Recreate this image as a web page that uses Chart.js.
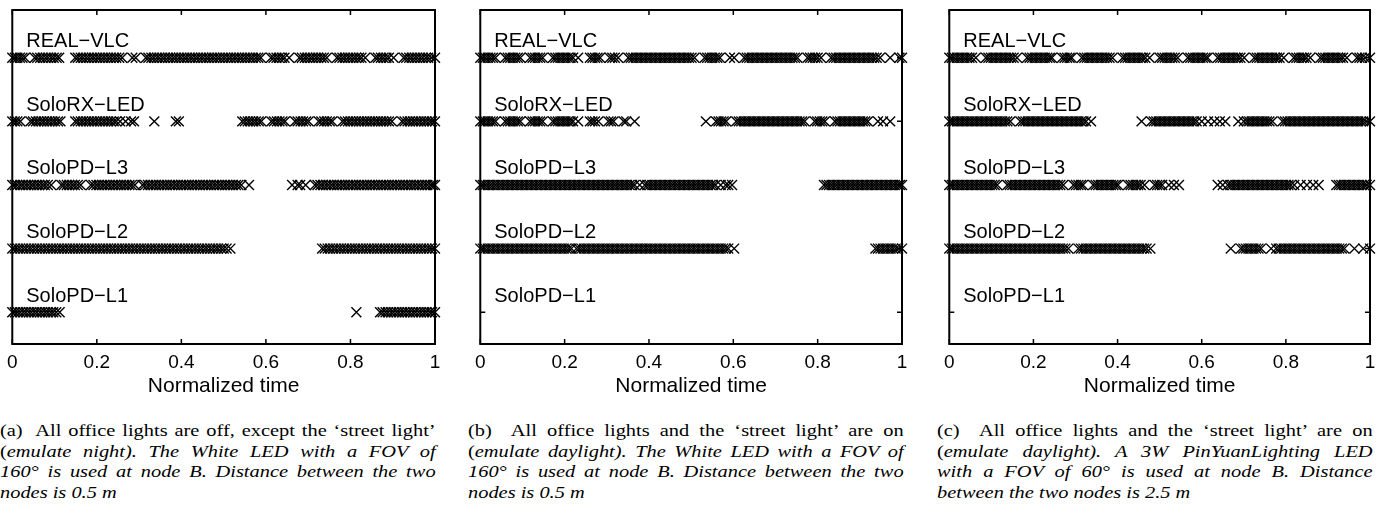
<!DOCTYPE html>
<html>
<head>
<meta charset="utf-8">
<script src="https://cdn.jsdelivr.net/npm/chart.js@4.4.1/dist/chart.umd.min.js"></script>
<style>
  body { margin: 0; background: #fff; width: 1385px; height: 517px; position: relative; overflow: hidden; }
  canvas { position: absolute; top: 0; }
  .cap { position: absolute; top: 421px; width: 363px; transform: scaleX(1.2); transform-origin: 0 0;
         font-family: "Liberation Serif", "Times New Roman", serif; font-size: 17px; line-height: 20.7px; color: #000; }
  .cap div { text-align: justify; text-align-last: justify; }
  .cap div.last { text-align-last: left; }
</style>
</head>
<body>
<canvas id="chartA" width="450" height="400" style="left:0px"></canvas>
<canvas id="chartB" width="450" height="400" style="left:468px"></canvas>
<canvas id="chartC" width="448" height="400" style="left:937px"></canvas>
<div class="cap" id="capA" style="left:0px"></div>
<div class="cap" id="capB" style="left:468px"></div>
<div class="cap" id="capC" style="left:937px"></div>
<script>
// rows, top to bottom
rowNames = ['REAL\u2212VLC', 'SoloRX\u2212LED', 'SoloPD\u2212L3', 'SoloPD\u2212L2', 'SoloPD\u2212L1'];
rowLevels = [5, 4, 3, 2, 1];
xTicks = [0, 0.2, 0.4, 0.6, 0.8, 1];
xTickLabels = ['0', '0.2', '0.4', '0.6', '0.8', '1'];

// (a) lights off, street light on
a_real = [0,0.006,0.012,0.018,0.024,0.03,
  0.053,0.059,0.066,0.072,0.079,0.085,0.092,0.098,0.105,0.111,
  0.149,0.155,0.162,0.168,0.175,0.181,0.188,0.194,0.201,0.207,0.214,0.22,0.227,0.233,0.24,0.246,0.253,0.26,
  0.284,0.292,
  0.316,0.322,0.329,0.335,0.342,0.348,0.355,0.361,0.368,0.374,0.381,0.387,0.394,0.4,0.407,0.413,0.42,0.426,0.433,0.439,0.446,0.452,0.459,0.465,0.472,0.478,0.485,0.491,0.498,0.504,0.511,0.517,0.524,0.53,0.537,0.543,0.55,0.556,0.563,0.569,0.576,0.582,0.588,
  0.612,0.618,0.625,0.631,0.638,0.644,0.655,
  0.679,0.685,0.692,0.698,0.705,0.711,0.718,0.724,0.731,0.737,0.744,
  0.768,0.774,0.781,0.787,0.794,0.8,0.807,0.813,0.82,0.826,0.835,
  0.859,0.865,0.872,0.878,0.885,0.891,0.902,
  0.926,0.932,0.939,0.945,0.952,0.958,0.965,0.971,0.978,0.984,0.991,1];
a_rx = [0,0.006,0.012,0.019,
  0.043,0.049,0.056,0.062,0.069,0.075,0.082,0.088,0.095,0.101,0.108,0.114,
  0.149,0.155,0.162,0.168,0.175,0.181,0.188,0.194,0.201,0.207,0.214,0.22,0.227,0.233,0.24,0.246,0.255,0.268,0.281,0.288,
  0.336,
  0.387,0.394,
  0.544,0.55,0.557,0.563,0.57,0.576,0.583,0.589,
  0.613,0.619,0.626,0.632,0.639,0.645,
  0.669,0.675,0.682,0.688,0.695,0.701,
  0.725,0.731,0.738,0.744,0.751,0.757,
  0.781,0.787,0.794,0.8,0.807,0.813,0.82,0.826,0.833,0.839,0.846,0.852,0.859,0.865,0.872,0.878,0.885,0.891,0.898,
  0.922,0.928,0.935,0.941,0.948,0.954,0.961,0.967,0.974,0.98,0.987,0.993,1];
a_l3 = [0,0.006,0.012,0.019,0.025,0.032,0.038,0.045,0.051,0.058,0.064,0.071,0.077,0.084,0.092,
  0.116,0.122,0.129,0.135,0.142,0.148,0.155,0.162,
  0.186,0.192,0.199,0.205,0.212,0.218,0.225,0.231,0.238,0.244,0.251,0.257,0.264,0.27,0.277,0.283,0.29,
  0.308,0.314,0.321,0.327,0.334,0.34,0.347,0.353,0.36,0.366,0.373,0.379,0.386,0.392,0.399,0.405,0.412,0.418,0.425,0.431,0.438,0.444,0.451,0.457,0.464,0.47,0.477,0.483,0.49,0.496,0.503,0.509,0.516,0.522,0.529,0.535,0.542,0.56,
  0.662,0.675,0.681,0.694,
  0.716,0.722,0.729,0.735,0.742,0.748,0.755,0.761,0.768,0.774,0.781,0.787,0.794,0.8,0.807,0.813,0.82,0.826,0.833,0.839,0.846,0.852,0.859,0.865,0.872,0.878,0.885,0.891,0.898,0.904,0.911,0.917,0.924,0.93,0.937,0.943,0.95,0.956,0.963,0.969,0.976,0.982,0.989,0.995,1];
a_l2 = [0,0.006,0.013,0.019,0.026,0.032,0.039,0.045,0.052,0.058,0.065,0.071,0.078,0.084,0.091,0.097,0.104,0.11,0.117,0.123,0.13,0.136,0.143,0.149,0.156,0.162,0.169,0.175,0.182,0.188,0.195,0.201,0.208,0.214,0.221,0.227,0.234,0.24,0.247,0.253,0.26,0.266,0.273,0.279,0.286,0.292,0.299,0.305,0.312,0.318,0.325,0.331,0.338,0.344,0.351,0.357,0.364,0.37,0.377,0.383,0.39,0.396,0.403,0.409,0.416,0.422,0.429,0.435,0.442,0.448,0.455,0.461,0.468,0.474,0.481,0.487,0.494,0.5,0.507,0.516,
  0.733,0.739,0.746,0.752,0.759,0.765,0.772,0.778,0.785,0.791,0.798,0.804,0.811,0.817,0.824,0.83,0.837,0.843,0.85,0.856,0.863,0.869,0.876,0.882,0.889,0.895,0.902,0.908,0.915,0.921,0.928,0.934,0.941,0.947,0.954,0.96,0.967,0.973,0.98,0.986,0.993,1];
a_l1 = [0,0.006,0.013,0.019,0.026,0.032,0.039,0.045,0.052,0.058,0.065,0.071,0.078,0.084,0.091,0.097,0.104,0.112,
  0.814,
  0.87,0.876,0.883,0.889,0.896,0.902,0.909,0.915,0.922,0.928,0.935,0.941,0.948,0.954,0.961,0.967,0.974,0.98,0.987,0.993,1];

// (b) all lights on, white LED
b_real = [0,0.006,0.012,0.018,0.024,0.03,0.036,
  0.059,0.065,0.071,0.077,0.083,0.089,0.095,
  0.118,0.124,0.13,0.136,0.142,0.148,
  0.172,0.178,0.184,0.19,0.196,0.202,0.208,0.214,0.22,0.232,
  0.26,0.266,0.272,0.278,0.284,
  0.307,0.313,0.319,0.327,
  0.351,0.357,0.363,0.369,0.375,0.381,0.387,0.393,0.399,0.405,0.411,0.417,0.423,0.429,0.435,0.441,0.447,0.453,0.459,0.465,0.471,0.477,0.483,0.489,0.495,0.501,0.508,
  0.532,0.538,0.544,0.55,0.556,0.562,0.568,
  0.592,0.602,
  0.626,0.632,0.638,0.644,0.65,0.656,0.662,0.668,0.674,0.68,0.686,0.692,0.698,0.704,0.71,0.716,0.722,0.728,0.734,0.74,0.746,0.752,
  0.776,0.782,0.788,0.794,0.8,0.808,
  0.832,0.838,0.844,0.85,0.856,0.862,0.868,0.874,0.88,0.886,0.892,0.898,0.904,0.91,0.916,0.922,0.928,0.934,0.94,0.948,
  0.972,0.994,1];
b_rx = [0,0.006,0.012,0.018,0.024,0.03,0.036,
  0.059,0.065,0.071,0.077,0.083,0.089,0.095,
  0.118,0.124,0.13,0.136,0.142,0.148,
  0.172,0.178,0.184,0.19,0.196,0.202,0.208,0.214,0.22,0.232,
  0.26,0.266,0.272,0.28,
  0.304,0.31,0.316,
  0.34,0.346,0.366,
  0.535,
  0.559,0.565,0.571,0.577,0.583,
  0.607,0.613,0.619,0.625,0.631,0.637,0.643,0.649,0.655,0.661,0.667,0.673,0.679,0.685,0.691,0.697,0.703,0.709,0.715,0.721,0.727,0.733,0.739,0.745,0.751,0.757,0.763,0.769,
  0.793,0.799,0.805,0.811,0.817,
  0.841,0.847,0.853,0.859,0.865,0.871,0.877,0.883,0.889,0.895,0.901,0.907,0.913,0.919,
  0.943,0.955,0.972];
b_l3 = [0,0.006,0.012,0.018,0.024,0.03,0.036,0.042,0.048,0.054,0.06,0.066,0.072,0.078,0.084,0.09,0.096,0.102,0.108,0.114,0.12,0.126,0.132,0.138,0.144,0.15,0.156,0.162,0.168,0.174,0.18,0.186,0.192,0.198,0.204,0.21,0.216,0.222,0.228,0.234,0.24,0.246,0.252,0.258,0.264,0.27,0.276,0.282,0.288,0.294,0.3,0.306,0.312,0.318,0.324,0.33,0.336,0.342,0.348,0.354,0.36,0.366,0.378,0.39,0.396,0.402,0.408,0.414,0.42,0.426,0.432,0.438,0.444,0.45,0.456,0.462,0.468,0.474,0.48,0.486,0.492,0.498,0.504,0.51,0.516,0.522,0.528,0.534,0.54,0.546,0.552,0.558,0.57,0.582,0.588,0.597,
  0.815,0.821,0.827,0.833,0.839,0.845,0.851,0.857,0.863,0.869,0.875,0.881,0.887,0.893,0.899,0.905,0.911,0.917,0.923,0.929,0.935,0.941,0.947,0.953,0.959,0.965,0.971,0.977,0.983,0.989,0.995,1];
b_l2 = [0,0.006,0.012,0.018,0.024,0.03,0.036,0.042,0.048,0.054,0.06,0.066,0.072,0.078,0.084,0.09,0.096,0.102,0.108,0.114,0.12,0.126,0.132,0.138,0.144,0.15,0.156,0.162,0.168,0.174,0.18,0.186,0.192,0.198,0.204,0.21,0.216,0.228,0.234,0.24,0.246,0.252,0.258,0.264,0.27,0.276,0.282,0.288,0.294,0.3,0.306,0.312,0.318,0.324,0.33,0.336,0.342,0.348,0.354,0.36,0.366,0.372,0.378,0.384,0.39,0.396,0.402,0.408,0.414,0.42,0.426,0.432,0.438,0.444,0.45,0.456,0.462,0.468,0.474,0.48,0.486,0.492,0.498,0.504,0.51,0.516,0.522,0.528,0.534,0.54,0.546,0.552,0.558,0.564,0.57,0.576,0.582,0.588,0.602,
  0.937,0.943,0.949,0.955,0.961,0.967,0.973,0.979,0.985,0.991,1];
b_l1 = [];

// (c) all lights on, 3W PinYuanLighting LED
c_real = [0,0.006,0.012,0.018,0.024,0.03,0.036,0.042,0.048,0.054,0.063,
  0.087,0.093,0.099,0.105,0.111,0.117,0.123,0.129,0.135,0.141,0.147,0.153,0.161,
  0.185,0.191,0.197,0.203,0.209,0.215,0.221,0.227,0.233,0.239,0.244,
  0.268,0.274,0.28,0.286,0.291,
  0.315,0.321,0.327,0.333,0.339,0.345,0.351,0.357,0.363,0.369,0.375,0.381,0.388,
  0.412,0.418,0.424,0.43,0.436,0.442,0.448,0.454,0.46,0.466,0.476,
  0.5,0.506,0.512,0.518,0.524,0.53,0.536,0.543,
  0.567,0.573,0.579,0.585,0.591,0.597,0.603,0.609,0.614,
  0.638,0.644,0.65,0.656,0.662,0.668,0.674,0.68,0.686,0.692,0.701,
  0.725,0.731,0.737,0.743,0.749,0.755,0.761,0.767,0.773,0.779,0.785,0.795,
  0.819,0.825,0.831,0.837,0.843,0.849,0.858,
  0.882,0.888,0.894,0.9,0.906,0.912,0.918,0.924,0.93,0.936,0.945,
  0.969,0.975,0.981,0.988,1];
c_rx = [0,0.006,0.012,0.018,0.024,0.03,0.036,0.042,0.048,0.054,0.06,0.066,0.072,0.078,0.084,0.09,0.096,0.102,0.108,0.114,0.12,0.126,0.132,0.138,0.145,
  0.169,0.175,0.181,0.187,0.193,0.199,0.205,0.211,0.217,0.223,0.229,0.235,0.241,0.247,0.253,0.259,0.265,0.271,0.277,0.283,0.289,0.295,0.301,0.307,0.313,0.319,0.325,0.337,
  0.457,
  0.48,0.486,0.492,0.498,0.504,0.51,0.516,0.522,0.528,0.534,0.54,0.546,0.552,0.558,0.564,0.57,0.576,0.582,0.588,0.6,
  0.615,0.63,0.643,0.656,
  0.687,0.7,0.707,0.713,0.719,0.725,0.731,0.737,0.743,0.749,0.755,0.761,0.768,
  0.792,0.798,0.804,0.81,0.816,0.822,0.828,0.834,0.84,0.846,0.852,0.858,0.864,0.87,0.876,0.882,0.888,0.894,0.9,0.906,0.912,0.918,0.924,0.93,0.936,0.942,0.948,0.954,0.96,0.966,0.972,0.978,0.984,0.99,1];
c_l3 = [0,0.006,0.012,0.018,0.024,0.03,0.036,0.042,0.048,0.054,0.06,0.066,0.072,0.078,0.084,0.09,0.096,0.102,0.108,0.114,
  0.138,0.144,0.15,0.156,0.162,0.168,0.174,0.18,0.186,0.192,0.198,0.204,0.21,0.216,0.222,0.228,0.234,0.24,0.246,0.252,0.258,0.264,0.271,
  0.295,0.301,0.307,0.313,0.318,
  0.342,0.348,0.354,0.36,0.366,0.372,0.378,0.384,0.39,0.396,0.401,
  0.425,0.431,0.437,0.443,0.449,0.455,0.464,
  0.488,0.494,0.5,0.506,0.522,0.534,0.546,
  0.638,0.65,0.662,0.668,0.674,0.68,0.686,0.692,0.698,0.704,0.71,0.716,0.722,0.728,0.734,0.74,0.746,0.752,0.758,0.764,0.77,0.776,0.782,0.788,0.794,0.8,0.806,0.812,0.82,0.835,0.85,0.865,0.878,
  0.92,0.926,0.932,0.938,0.944,0.95,0.956,0.962,0.968,0.974,0.98,0.986,0.992,1];
c_l2 = [0,0.006,0.012,0.018,0.024,0.03,0.036,0.042,0.048,0.054,0.06,0.066,0.072,0.078,0.084,0.09,0.096,0.102,0.108,0.114,0.12,0.126,0.132,0.138,0.144,0.15,0.156,0.162,0.168,0.174,0.18,0.186,0.192,0.198,0.204,0.21,0.216,0.222,0.228,0.234,0.24,0.246,0.252,0.258,0.264,0.27,0.276,0.283,
  0.307,0.313,0.319,0.325,0.331,0.337,0.343,0.349,0.355,0.361,0.367,0.373,0.379,0.385,0.391,0.397,0.403,0.409,0.415,0.421,0.427,0.433,0.439,0.445,0.451,0.457,0.463,0.469,0.478,
  0.669,
  0.693,0.699,0.705,0.711,0.717,0.723,0.729,0.735,0.741,
  0.765,
  0.777,0.783,0.789,0.795,0.801,0.807,0.813,0.819,0.825,0.831,0.837,0.843,0.849,0.855,0.861,0.867,0.873,0.879,0.885,0.891,0.897,0.903,0.909,0.915,0.921,0.927,0.933,0.939,
  0.963,0.984,1];
c_l1 = [];

capA = [
  '(a)&nbsp; All office lights are off, except the \u2018street light\u2019',
  '(<i>emulate night). The White LED with a FOV of</i>',
  '<i>160\u00b0 is used at node B. Distance between the two</i>',
  '<i>nodes is 0.5 m</i>'
];
capB = [
  '(b)&nbsp; All office lights and the \u2018street light\u2019 are on',
  '(<i>emulate daylight). The White LED with a FOV of</i>',
  '<i>160\u00b0 is used at node B. Distance between the two</i>',
  '<i>nodes is 0.5 m</i>'
];
capC = [
  '(c)&nbsp; All office lights and the \u2018street light\u2019 are on',
  '(<i>emulate daylight). A 3W PinYuanLighting LED</i>',
  '<i>with a FOV of 60\u00b0 is used at node B. Distance</i>',
  '<i>between the two nodes is 2.5 m</i>'
];

Chart.defaults.font.family = '"Liberation Sans", Arial, sans-serif';
Chart.defaults.color = '#000000';

// box, inward ticks and row names
framePlugin = {
  id: 'frame',
  afterDraw(chart) {
    const ctx = chart.ctx;
    const a = chart.chartArea;
    const x = chart.scales.x, y = chart.scales.y;
    ctx.save();
    ctx.strokeStyle = '#000';
    ctx.lineWidth = 1.5;
    ctx.beginPath();
    xTicks.forEach(v => {
      const px = x.getPixelForValue(v);
      ctx.moveTo(px, a.bottom); ctx.lineTo(px, a.bottom - 5);
      ctx.moveTo(px, a.top); ctx.lineTo(px, a.top + 5);
    });
    rowLevels.forEach(v => {
      const py = y.getPixelForValue(v);
      ctx.moveTo(a.left, py); ctx.lineTo(a.left + 5, py);
      ctx.moveTo(a.right, py); ctx.lineTo(a.right - 5, py);
    });
    ctx.stroke();
    ctx.lineWidth = 2;
    ctx.strokeRect(a.left, a.top, a.right - a.left, a.bottom - a.top);
    ctx.fillStyle = '#000';
    ctx.font = '20px "Liberation Sans", Arial, sans-serif';
    ctx.textBaseline = 'middle';
    rowNames.forEach((n, i) => {
      ctx.fillText(n, a.left + 14, y.getPixelForValue(rowLevels[i]) - 16);
    });
    ctx.restore();
  }
};

function makeChart(id, rows, padRight) {
  const datasets = rows.map((vals, i) => ({
    label: rowNames[i],
    data: vals.map(v => ({x: v, y: rowLevels[i]})),
    pointStyle: 'crossRot',
    pointRadius: 7,
    borderColor: '#000000',
    backgroundColor: '#000000',
    borderWidth: 1.4,
    showLine: false,
    clip: false
  }));
  return new Chart(document.getElementById(id).getContext('2d'), {
    type: 'scatter',
    data: {datasets: datasets},
    options: {
      responsive: false,
      animation: false,
      events: [],
      layout: {padding: {left: 10, right: padRight, top: 10, bottom: 1}},
      plugins: {legend: {display: false}, tooltip: {enabled: false}},
      scales: {
        x: {
          type: 'linear', min: 0, max: 1,
          afterBuildTicks: s => { s.ticks = xTicks.map(v => ({value: v})); },
          ticks: {
            callback: (v) => xTickLabels[xTicks.indexOf(v)],
            font: {size: 19}, padding: 7, maxRotation: 0
          },
          grid: {display: false, drawTicks: false},
          border: {display: false},
          title: {display: true, text: 'Normalized time', font: {size: 21}, padding: {top: -7, bottom: 0}}
        },
        y: {display: false, min: 0.5, max: 5.75}
      }
    },
    plugins: [framePlugin]
  });
}

makeChart('chartA', [a_real, a_rx, a_l3, a_l2, a_l1], 15);
makeChart('chartB', [b_real, b_rx, b_l3, b_l2, b_l1], 16);
makeChart('chartC', [c_real, c_rx, c_l3, c_l2, c_l1], 15);

function fillCaption(id, lines) {
  const el = document.getElementById(id);
  el.innerHTML = lines.map((l, i) => '<div' + (i === lines.length - 1 ? ' class="last"' : '') + '>' + l + '</div>').join('');
}
fillCaption('capA', capA);
fillCaption('capB', capB);
fillCaption('capC', capC);
</script>
</body>
</html>
